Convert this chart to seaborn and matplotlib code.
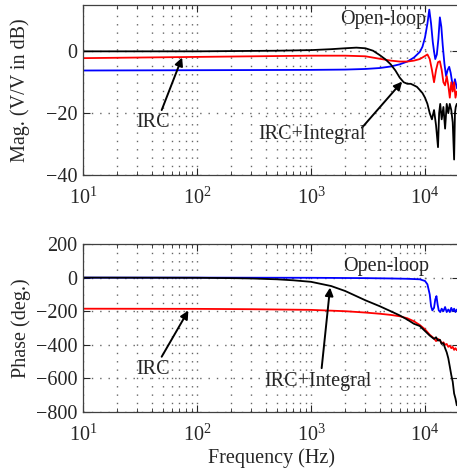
import numpy as np
import pandas as pd
import matplotlib
matplotlib.use("Agg")
import matplotlib.pyplot as plt
import seaborn as sns
from matplotlib.ticker import LogLocator, NullFormatter

# magnitude (dB)
f_mag_black = [10, 100, 500, 1000, 1500, 2000, 2500, 3000, 3500, 4000, 4500, 5000, 5500, 6000,
               6500, 7000, 7500, 8000, 8500, 9000, 9500, 10000, 10500, 11000, 11500, 12000,
               12500, 13000, 13300, 13600, 14000, 14500, 15000, 15500, 16000, 16500, 17000,
               17500, 18000, 18300, 18600, 19000]
mag_black = [0, 0, 0.2, 0.4, 0.7, 1.0, 1.2, 1.0, 0.2, -1.2, -2.6, -4.2, -6.2, -8.5, -10, -10.5,
             -10.5, -11, -11.5, -12.5, -13.5, -15, -17, -20, -22, -19, -24, -31, -20, -17, -22,
             -18, -25, -17, -20, -17, -19, -23, -35, -20, -18, -17]

f_mag_red = [10, 100, 1000, 2000, 3000, 4000, 5000, 6000, 7000, 8000, 9000, 10000, 10500, 11000,
             11500, 12000, 12500, 13000, 13500, 14000, 14500, 15000, 15500, 16000, 16500, 17000,
             17500, 18000, 18500, 19000]
mag_red = [-2.2, -1.8, -1.4, -1.4, -1.6, -2.4, -3.0, -3.3, -3.3, -3.0, -2.5, -1.5, -1.0, -2.5,
           -6, -10, -6, -3.5, -3.2, -6, -10, -11, -8, -11, -15, -10, -13, -10, -15, -13]

f_mag_blue = [10, 100, 1000, 2000, 3000, 4000, 5000, 6000, 7000, 8000, 9000, 9500, 10000, 10500,
              10900, 11300, 11700, 12000, 12300, 12700, 13100, 13500, 13900, 14300, 14800, 15300,
              15800, 16300, 16800, 17300, 17800, 18300, 18800, 19100]
mag_blue = [-6.2, -6.1, -6.0, -5.9, -5.7, -5.4, -4.9, -4.2, -3.3, -2.0, -0.2, 1.5, 4.5, 9, 13.5,
            9, 3, 0, -2.5, -1, 4, 11, 8, 2, -4, -8, -6, -5, -7, -10, -12, -9, -11, -12]

# phase (deg)
f_ph_black = [10, 100, 200, 300, 500, 700, 1000, 1500, 2000, 3000, 4000, 5000, 6000, 7000, 8000,
              9000, 10000, 11000, 12000, 12500, 13000, 13500, 14000, 14500, 15000, 15500, 16000,
              16500, 17000, 17500, 18000, 18500, 19000]
ph_black = [0, -1, -3, -5, -10, -16, -25, -50, -80, -135, -170, -200, -225, -250, -275, -288,
            -318, -345, -365, -355, -375, -370, -395, -390, -420, -445, -480, -530, -580, -620,
            -690, -720, -760]

f_ph_red = [10, 100, 300, 1000, 2000, 3000, 4000, 5000, 6000, 7000, 8000, 9000, 10000, 11000,
            12000, 12500, 13000, 13500, 14000, 14500, 15000, 15500, 16000, 16500, 17000, 17500,
            18000, 18500, 19000]
ph_red = [-185, -186, -188, -192, -200, -208, -215, -222, -230, -242, -260, -282, -308, -340,
          -362, -378, -365, -372, -392, -385, -400, -395, -412, -405, -420, -412, -430, -420, -432]

f_ph_blue = [10, 100, 1000, 3000, 5000, 7000, 9000, 10000, 10500, 11000, 11300, 11600, 12000,
             12300, 12600, 12900, 13200, 13600, 14000, 14500, 15000, 15500, 16000, 16500, 17000,
             17500, 18000, 18500, 19000]
ph_blue = [0, 0, -1, -3, -5, -7, -10, -20, -40, -100, -170, -195, -180, -130, -110, -160, -195,
           -205, -185, -200, -175, -205, -190, -205, -180, -200, -185, -205, -190]

sns.set_style("ticks")
plt.rcParams["font.family"] = ["Liberation Serif", "DejaVu Serif"]
plt.rcParams["mathtext.fontset"] = "custom"
plt.rcParams["mathtext.rm"] = "Liberation Serif"
plt.rcParams["mathtext.it"] = "Liberation Serif:italic"
plt.rcParams["axes.unicode_minus"] = True

FS = 14.5
fig = plt.figure(figsize=(4.57, 4.70), dpi=100)
ax1 = fig.add_axes([0.1816, 0.6277, 0.8235, 0.3617])
ax2 = fig.add_axes([0.1816, 0.1234, 0.8235, 0.3574])

lw = 1.3
sns.lineplot(x=f_mag_blue, y=mag_blue, color="blue", lw=lw, ax=ax1)
sns.lineplot(x=f_mag_red, y=mag_red, color="red", lw=lw, ax=ax1)
sns.lineplot(x=f_mag_black, y=mag_black, color="black", lw=lw, ax=ax1)

sns.lineplot(x=f_ph_blue, y=ph_blue, color="blue", lw=lw, ax=ax2)
sns.lineplot(x=f_ph_red, y=ph_red, color="red", lw=lw, ax=ax2)
sns.lineplot(x=f_ph_black, y=ph_black, color="black", lw=lw, ax=ax2)

grid_ls = (0, (1, 5))
for ax in (ax1, ax2):
    ax.set_xscale("log")
    ax.set_xlim(10, 2e4)
    ax.xaxis.set_major_locator(LogLocator(base=10, numticks=10))
    ax.xaxis.set_minor_locator(LogLocator(base=10, subs=np.arange(2, 10), numticks=20))
    ax.xaxis.set_minor_formatter(NullFormatter())
    ax.grid(True, which="major", axis="both", linestyle=grid_ls, color="0.4", lw=1.0)
    ax.grid(True, which="minor", axis="x", linestyle=grid_ls, color="0.4", lw=1.0)
    ax.tick_params(which="both", direction="in", top=True, right=True, labelsize=FS)
    ax.tick_params(axis="x", pad=9)
    ax.tick_params(axis="y", pad=4)
    ax.tick_params(which="major", length=5)
    ax.tick_params(which="minor", length=3)
    for s in ax.spines.values():
        s.set_linewidth(0.9)
        s.set_color("0.25")

ax1.set_ylim(-40, 15)
ax1.set_yticks([-40, -20, 0])
ax1.set_ylabel("Mag. (V/V in dB)", fontsize=FS)
ax1.yaxis.set_label_coords(-0.14, 0.5)
ax2.set_ylim(-800, 200)
ax2.set_yticks([-800, -600, -400, -200, 0, 200])
ax2.set_ylabel("Phase (deg.)", fontsize=FS)
ax2.yaxis.set_label_coords(-0.138, 0.5)
ax2.set_xlabel("Frequency (Hz)", fontsize=FS, labelpad=2)

arrow = dict(arrowstyle="-|>", color="black", lw=1.4, mutation_scale=12, shrinkA=0, shrinkB=0)
ax1.annotate("", xy=(74, -2), xytext=(49, -19), arrowprops=arrow)
ax1.text(41, -23, "IRC", fontsize=FS, ha="center", va="center")
ax1.annotate("", xy=(6300, -9.8), xytext=(2800, -24.7), arrowprops=arrow)
ax1.text(1020, -27, "IRC+Integral", fontsize=FS, ha="center", va="center")
ax1.text(4300, 10.4, "Open-loop", fontsize=FS, ha="center", va="center")

ax2.annotate("", xy=(84, -196), xytext=(49, -471), arrowprops=arrow)
ax2.text(41, -549, "IRC", fontsize=FS, ha="center", va="center")
ax2.annotate("", xy=(1470, -59), xytext=(1240, -539), arrowprops=arrow)
ax2.text(1150, -618, "IRC+Integral", fontsize=FS, ha="center", va="center")
ax2.text(4600, 69, "Open-loop", fontsize=FS, ha="center", va="center")

fig.savefig("out.png", dpi=100)
